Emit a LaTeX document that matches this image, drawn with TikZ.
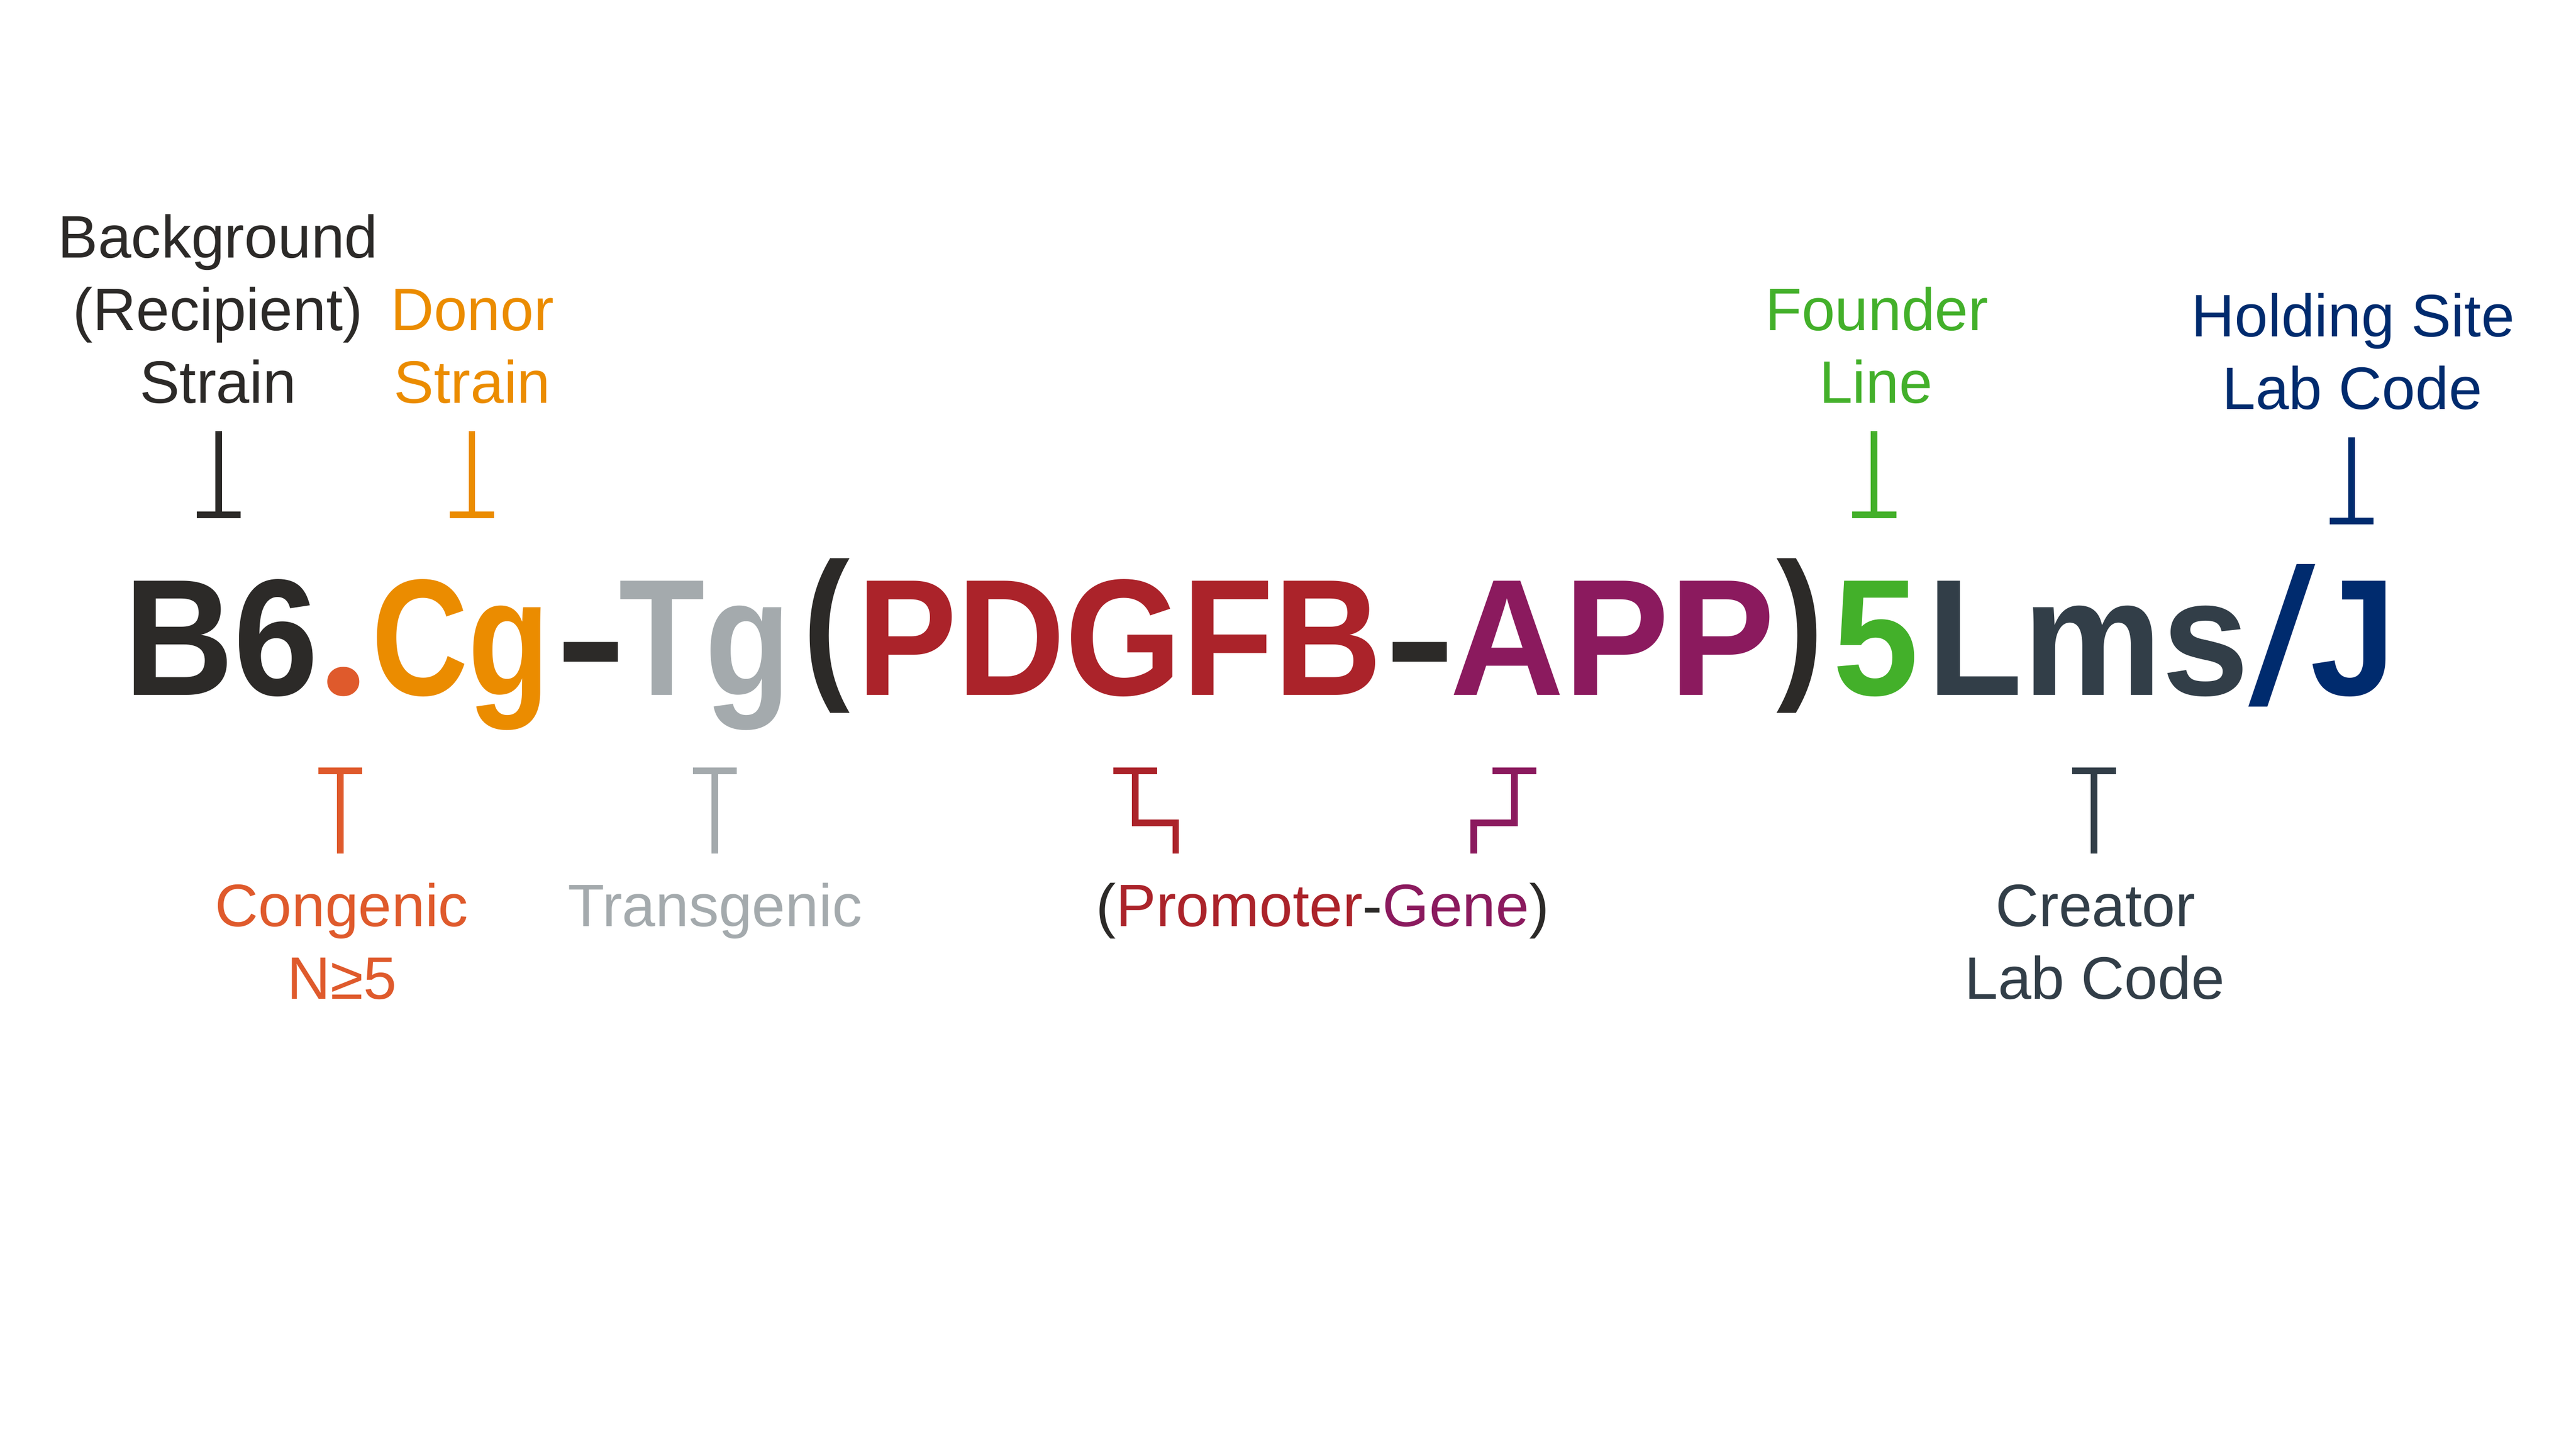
\documentclass[tikz,border=0pt]{standalone}
\usepackage{fontspec}
\setmainfont{Liberation Sans}
\newfontfamily\dotfont{Poppins}
\usepackage{graphicx}
\definecolor{cdark}{HTML}{2C2A28}
\definecolor{cdot}{HTML}{DF5A2C}
\definecolor{corange}{HTML}{EB8C00}
\definecolor{cgray}{HTML}{A4AAAD}
\definecolor{cred}{HTML}{AB232A}
\definecolor{cpurple}{HTML}{8B1A5E}
\definecolor{cgreen}{HTML}{43B02A}
\definecolor{cslate}{HTML}{323E48}
\definecolor{cnavy}{HTML}{002B6E}
\newcommand\fitw[2]{\resizebox{#1pt}{\height}{#2}}
\newcommand\upmark[5]{%
  \coordinate (#1t) at (#2,#3);
  \coordinate (#1b) at (#2,#4);
  \draw[tk,#5] (#1t) -- (#1b);
  \draw[tk,#5] ([xshift=-13.3pt]#1b) -- ([xshift=13.3pt]#1b);}
\newcommand\downmark[5]{%
  \coordinate (#1t) at (#2,#3);
  \coordinate (#1b) at (#2,#4);
  \draw[tk,#5] (#1t) -- (#1b);
  \draw[tk,#5] ([xshift=-13.3pt]#1t) -- ([xshift=13.3pt]#1t);}
\begin{document}
\begin{tikzpicture}[x=1pt,y=-1pt,
  lbl/.style={inner sep=0pt, anchor=base, font=\fontsize{36.3}{44}\selectfont},
  big/.style={inner sep=0pt, anchor=base, font=\fontsize{100.5}{120}\selectfont\bfseries},
  tk/.style={line width=4pt}]
\useasboundingbox[fill=white] (0,0) rectangle (1560,877.5);

% main strain name
\node[big,text=cdark]   (s1)  at (134,421)   {\fitw{118}{B6}};
\node[big,text=cdot]    (s2)  at (208,421)   {\dotfont\scalebox{0.95}{.}};
\node[big,text=corange] (s3)  at (279,421)   {\fitw{108}{Cg}};
\node[big,text=cdark]   (s4)  at (358,421)   {\fitw{43}{-}};
\node[big,text=cgray]   (s5)  at (427,421)   {\fitw{104}{Tg}};
\node[big,text=cdark]   (s6)  at (500.5,411) {\scalebox{0.85}[1]{(}};
\node[big,text=cred]    (s7)  at (678,421)   {\fitw{318}{PDGFB}};
\node[big,text=cdark]   (s8)  at (860,421)   {\fitw{43}{-}};
\node[big,text=cpurple] (s9)  at (976.5,421) {\fitw{197}{APP}};
\node[big,text=cdark]   (s10) at (1090,411)  {\scalebox{0.85}[1]{)}};
\node[big,text=cgreen]  (s11) at (1136,421)  {\fitw{52}{5}};
\node[big,text=cslate]  (s12) at (1264.5,421){\fitw{195}{Lms}};
\node[big,text=cnavy]   (s13) at (1382,427)  {\mdseries\scalebox{1.45}[1.17]{/}};
\node[big,text=cnavy]   (s14) at (1425,421)  {\fitw{52}{J}};

% upper labels
\node[lbl,text=cdark]   (bg1) at (132,156)    {Background};
\node[lbl,text=cdark]   (bg2) at (132,200)    {(Recipient)};
\node[lbl,text=cdark]   (bg3) at (132,244)    {Strain};
\node[lbl,text=corange] (dn1) at (286,200)    {Donor};
\node[lbl,text=corange] (dn2) at (286,244)    {Strain};
\node[lbl,text=cgreen]  (fd1) at (1136.5,200) {Founder};
\node[lbl,text=cgreen]  (fd2) at (1136,244)   {Line};
\node[lbl,text=cnavy]   (hs1) at (1425,204)   {Holding Site};
\node[lbl,text=cnavy]   (hs2) at (1424.5,248) {Lab Code};

% lower labels
\node[lbl,text=cdot]    (cg1) at (207,561)    {Congenic};
\node[lbl,text=cdot]    (cg2) at (207,605)    {N≥5};
\node[lbl,text=cgray]   (tg1) at (433,561)    {Transgenic};
\node[lbl]              (pg)  at (801,561)    {\textcolor{cdark}{(}\textcolor{cred}{Promoter}\textcolor{cdark}{-}\textcolor{cpurple}{Gene}\textcolor{cdark}{)}};
\node[lbl,text=cslate]  (cr1) at (1269,561)   {Creator};
\node[lbl,text=cslate]  (cr2) at (1268.5,605) {Lab Code};

% markers above
\upmark{mbg}{132.5}{261}{311.8}{cdark}
\upmark{mdn}{285.8}{261}{311.8}{corange}
\upmark{mfd}{1135}{261}{311.8}{cgreen}
\upmark{mhs}{1424}{265}{315.7}{cnavy}

% markers below
\downmark{mcg}{206}{466.8}{517}{cdot}
\downmark{mtg}{433}{466.8}{517}{cgray}
\downmark{mcr}{1268}{466.8}{517}{cslate}

% promoter / gene step markers
\coordinate (mpr1) at (687.5,466.8);
\coordinate (mpr2) at (687.5,498.5);
\coordinate (mpr3) at (712,498.5);
\coordinate (mpr4) at (712,517);
\draw[tk,cred] ([xshift=-13.3pt]mpr1) -- ([xshift=13.3pt]mpr1);
\draw[tk,cred] (mpr1) -- (mpr2) -- (mpr3) -- (mpr4);
\coordinate (mge1) at (917,466.8);
\coordinate (mge2) at (917,498.5);
\coordinate (mge3) at (892.4,498.5);
\coordinate (mge4) at (892.4,517);
\draw[tk,cpurple] ([xshift=-13.3pt]mge1) -- ([xshift=13.3pt]mge1);
\draw[tk,cpurple] (mge1) -- (mge2) -- (mge3) -- (mge4);
\end{tikzpicture}
\end{document}
